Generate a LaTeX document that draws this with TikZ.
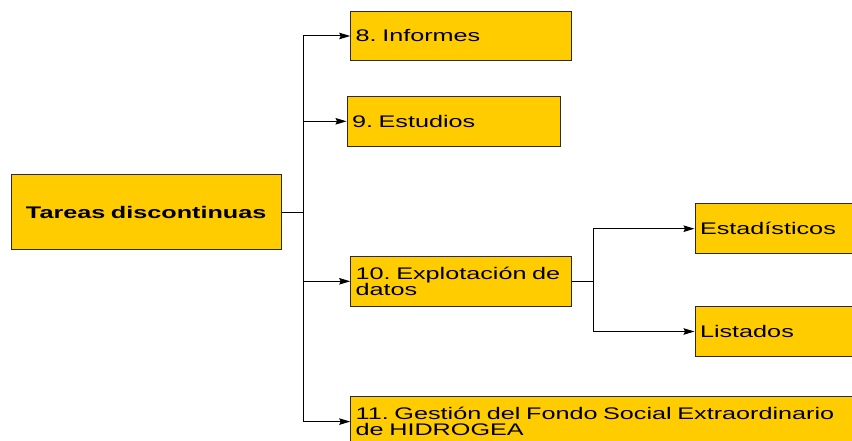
\documentclass[tikz,border=0pt]{standalone}
\usepackage{fontspec}
\setmainfont{Liberation Sans}[FakeStretch=1.5]
\usetikzlibrary{arrows.meta}
\hyphenpenalty=10000
\exhyphenpenalty=10000
\frenchspacing
\definecolor{boxfill}{HTML}{FFCC00}
\definecolor{boxline}{HTML}{2A2A2A}
\tikzset{
  taskbox/.style={draw=boxline, line width=1pt, fill=boxfill, inner xsep=5pt, inner ysep=0pt,
    align=left, minimum height=49.5pt, anchor=center,
    font=\fontsize{16.8pt}{16pt}\selectfont},
  conn/.style={line width=1pt, draw=black},
  arr/.style={conn, -{Stealth[length=11pt, width=6.5pt, inset=1.5pt]}}
}
\begin{document}
\begin{tikzpicture}[x=1pt, y=-1pt]
\useasboundingbox (0,0) rectangle (852,441);
\clip (0,0) rectangle (852,441);
\fill[white] (0,0) rectangle (852,441);

\node[taskbox, align=center, text width=259.7pt, minimum height=75pt,
  font=\fontsize{16.8pt}{16pt}\selectfont\bfseries] (T) at (146.2,212.2) {Tareas discontinuas};

\node[taskbox, text width=211pt] (A) at (461.2,36) {8. Informes};
\node[taskbox, text width=203.3pt] (B) at (453.7,121.3) {9. Estudios};
\node[taskbox, text width=211pt] (C) at (461.2,281.3) {10. Explotación de datos};
\node[taskbox, text width=160pt] (D) at (780,228.7) {Estadísticos};
\node[taskbox, text width=160pt] (E) at (780,331.5) {Listados};
\node[taskbox, text width=501pt] (F) at (606.2,421.6) {11. Gestión del Fondo Social Extraordinario de HIDROGEA};

\draw[conn] (T.east) -- ++(21.7,0) coordinate (j1);
\draw[arr] (j1) |- (A.west);
\draw[arr] (j1) |- (B.west);
\draw[arr] (j1) |- (C.west);
\draw[arr] (j1) |- (F.west);

\draw[conn] (C.east) -- ++(21.6,0) coordinate (j2);
\draw[arr] (j2) |- (D.west);
\draw[arr] (j2) |- (E.west);
\end{tikzpicture}
\end{document}
